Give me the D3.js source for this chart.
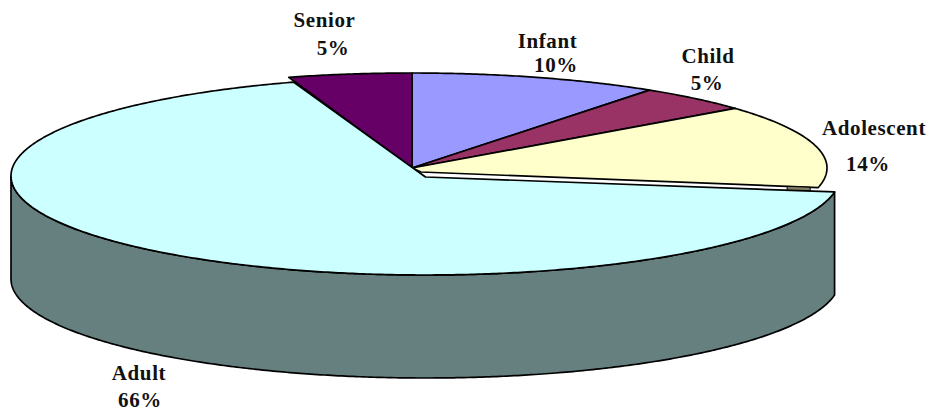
<!DOCTYPE html>
<html><head><meta charset="utf-8">
<script src="https://cdnjs.cloudflare.com/ajax/libs/d3/7.8.5/d3.min.js"></script>
<style>html,body{margin:0;padding:0;background:#fff}svg{display:block}text{font-family:"Liberation Serif",serif;font-weight:bold;font-size:21px;letter-spacing:.6px;fill:#111}</style>
</head><body><div id="c"></div>
<script>
const categories=["Infant","Child","Adolescent","Adult","Senior"];
const percentLabels=["10%","5%","14%","66%","5%"];
const shares=[9.7,4.5,14.1,66.9,4.8];
const colors=["#9999FF","#993366","#FFFFCC","#CCFFFF","#660066"];
const adultWall="#668080", adolescentWall="#808066";
const labelPos={Infant:[[547.5,48],[556,72]],Child:[[708,63],[707,90]],Adolescent:[[874,135],[868,171]],Adult:[[139,380],[140,407]],Senior:[[324.5,27],[333,55]]};

const W=935,H=412,depth=103;
const svg=d3.select("#c").append("svg").attr("width",W).attr("height",H);
const arcs=d3.pie().sort(null).value(d=>d)(shares);
const deg=Math.PI/180;
// ellipse scales: unit circle -> page
const mainX=d3.scaleLinear().domain([-1,1]).range([412-415,412+415]);
const mainY=d3.scaleLinear().domain([-1,1]).range([168+95,168-95]);
const adultX=d3.scaleLinear().domain([-1,1]).range([11,840]);
const adultY=d3.scaleLinear().domain([-1,1]).range([176+99,176-99]);
const line=d3.line();
function rim(a0,a1,sx,sy,dy=0){
  const n=Math.max(2,Math.ceil(Math.abs(a1-a0)/(0.5*deg))),pts=[];
  for(let i=0;i<=n;i++){const t=a0+(a1-a0)*i/n;pts.push([sx(Math.sin(t)),sy(Math.cos(t))+dy]);}
  return pts;
}
const stroke={stroke:"#000","stroke-width":1.7,"stroke-linejoin":"round"};
function draw(d,attrs){const p=svg.append("path").attr("d",d);Object.entries({...stroke,...attrs}).forEach(([k,v])=>p.attr(k,v));return p;}

const adult=arcs[3], adolescent=arcs[2];
const a0=adult.startAngle-2.6*deg, a1=adult.endAngle-1.3*deg;

// adolescent cut-face sliver seen through the gap
const ae=adolescent.endAngle;
const tipX=mainX(Math.sin(ae)),tipY=mainY(Math.cos(ae));
const fx=d3.scaleLinear().domain([0,1]).range([mainX(0)+9,tipX]);
const fy=d3.scaleLinear().domain([0,1]).range([mainY(0)+4,tipY]);

// main group slices
[0,1,2,4].forEach(i=>{
  const a=arcs[i];
  const pts=[[mainX(0),mainY(0)],...rim(a.startAngle,a.endAngle,mainX,mainY)];
  if(i===2) pts.push([fx(0),fy(0)]);
  draw(line(pts)+"Z",{fill:colors[i]});
});
draw(line([[fx(.922),fy(.922)],[fx(.98),fy(.98)],[fx(.98),fy(.98)+4],[fx(.922),fy(.922)+4]])+"Z",{fill:adolescentWall,"stroke-width":1});

// adult side wall
const side=rim(a0,Math.PI*1.5,adultX,adultY);
const sideB=rim(Math.PI*1.5,a0,adultX,adultY,depth);
draw(line([...side,...sideB])+"Z",{fill:adultWall});
// adult top
draw(line([[adultX(0),adultY(0)+1],...rim(a0,a1,adultX,adultY)])+"Z",{fill:colors[3]});

categories.forEach((c,i)=>{
  const [p,q]=labelPos[c];
  svg.append("text").attr("x",p[0]).attr("y",p[1]).attr("text-anchor","middle").text(c);
  svg.append("text").attr("x",q[0]).attr("y",q[1]).attr("text-anchor","middle").text(percentLabels[i]);
});
</script></body></html>
